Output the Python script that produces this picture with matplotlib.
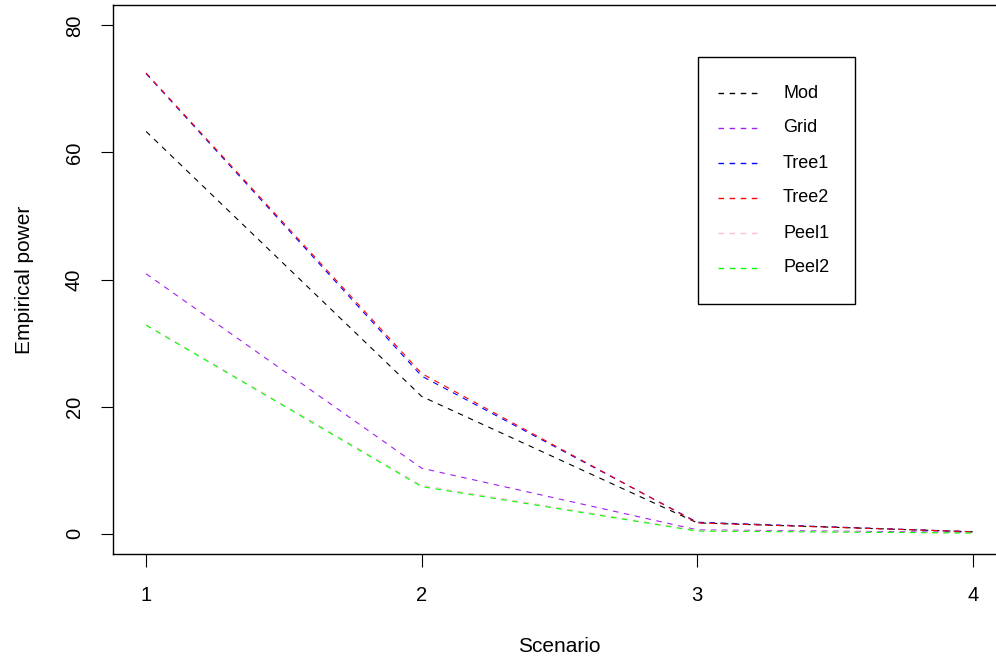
import matplotlib
matplotlib.use('Agg')
import matplotlib.pyplot as plt
from matplotlib.lines import Line2D
from matplotlib.patches import Rectangle

plt.rcParams['font.family'] = ['Liberation Sans', 'DejaVu Sans']

scenarios = [1, 2, 3, 4]
mod = [63.3, 21.6, 1.7, 0.3]
grid = [40.9, 10.3, 0.6, 0.2]
tree1 = [72.4, 24.8, 1.8, 0.3]
tree2 = [72.5, 25.2, 1.7, 0.3]
peel1 = [32.9, 7.6, 0.5, 0.1]
peel2 = [32.8, 7.4, 0.4, 0.1]

names = ['Mod', 'Grid', 'Tree1', 'Tree2', 'Peel1', 'Peel2']
series = [mod, grid, tree1, tree2, peel1, peel2]
colors = ['black', '#A020F0', 'blue', 'red', '#FFC0CB', '#00FF00']

W, H = 996, 661
fig = plt.figure(figsize=(W / 100, H / 100), dpi=100)
ax = fig.add_axes([113 / W, 107 / H, 893 / W, 549 / H])

for name, vals, col in zip(names, series, colors):
    ax.plot(scenarios, vals, color=col, linewidth=0.8, dashes=(5, 5))

ax.set_xlim(0.88, 4.12)
ax.set_ylim(-3.2, 83.2)
ax.set_xticks([1, 2, 3, 4])
ax.set_yticks([0, 20, 40, 60, 80])
ax.tick_params(direction='out', length=9, width=0.8, labelsize=14.5)
ax.tick_params(axis='x', pad=14)
ax.tick_params(axis='y', pad=12)
for lab in ax.get_yticklabels():
    lab.set_rotation(90)
    lab.set_va('center')
for sp in ax.spines.values():
    sp.set_linewidth(1.0)
    sp.set_color('black')

ax.set_xlabel('Scenario', fontsize=15, labelpad=23)
ax.set_ylabel('Empirical power', fontsize=15, labelpad=22)

# legend box drawn by hand, R style
def fx(px):
    return px / W

def fy(py):
    return 1 - py / H

fig.add_artist(Rectangle((fx(698), fy(304)), (855 - 698) / W, (304 - 57) / H,
                         transform=fig.transFigure, facecolor='white',
                         edgecolor='black', linewidth=1.0))
for i, (name, col) in enumerate(zip(names, colors)):
    yy = 93 + 35 * i
    fig.add_artist(Line2D([fx(718), fx(757)], [fy(yy), fy(yy)], transform=fig.transFigure,
                          color=col, linewidth=1.0, dashes=(4, 4)))
    fig.text(fx(783), fy(yy), name, fontsize=13, va='center', ha='left')

fig.savefig('out.png', dpi=100)
